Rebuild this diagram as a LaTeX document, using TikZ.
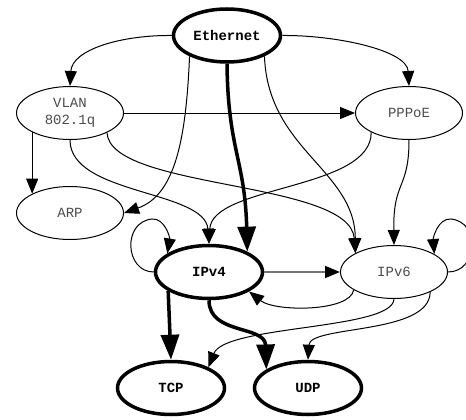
\documentclass[tikz,border=0pt]{standalone}
\usepackage{fontspec}
\setmonofont{Liberation Mono}
\usetikzlibrary{shapes.geometric,arrows.meta}
\begin{document}
\begin{tikzpicture}[x=1pt,y=-1pt,
  base/.style={ellipse, draw, minimum width=107pt, minimum height=53pt, inner sep=0pt, fill=white},
  thinnode/.style={base, line width=1pt, text=black!70, align=center, font=\ttfamily\fontsize{14}{17}\selectfont},
  boldnode/.style={base, line width=3.5pt, font=\ttfamily\bfseries\fontsize{14}{17}\selectfont},
  thinedge/.style={line width=1pt, -{Triangle[length=15pt,width=12pt]}},
  boldedge/.style={line width=3.5pt, line join=round, -{Triangle[length=25pt,width=18pt]}},
  grayedge/.style={line width=1.6pt, draw=black!55, -{Triangle[length=15pt,width=12pt,color=black]}},
]
\useasboundingbox (0,0) rectangle (466,420);

\node[boldnode] (eth)   at (227,35.5) {Ethernet};
\node[thinnode] (vlan)  at (70,113)  {VLAN\\802.1q};
\node[thinnode] (pppoe) at (409,113) {PPPoE};
\node[thinnode] (arp)   at (70,213)  {ARP};
\node[boldnode] (ipv4)  at (209,272) {IPv4};
\node[thinnode] (ipv6)  at (394,272) {IPv6};
\node[boldnode] (tcp)   at (171,388) {TCP};
\node[boldnode] (udp)   at (308,388) {UDP};

% from Ethernet
\draw[thinedge] (eth.west) .. controls (120,35) and (72,50) .. (vlan.north);
\draw[thinedge] (eth.east) .. controls (335,35) and (407,50) .. (pppoe.north);
\draw[thinedge] (eth.209) .. controls (186,140) and (175,195) .. (arp.east);
\draw[boldedge] (eth.south) .. controls (228,150) and (245,160) .. (ipv4.28);
\draw[thinedge] (eth.331) .. controls (268,150) and (355,170) .. (ipv6.154);

% from VLAN
\draw[thinedge] (vlan.east) -- (pppoe.west);
\draw[thinedge] (vlan.207) -- (arp.153);
\draw[thinedge] (vlan.south) .. controls (70,195) and (205,190) .. (ipv4.north);
\draw[thinedge] (vlan.332.5) .. controls (110,190) and (350,180) .. (ipv6.154);

% from PPPoE
\draw[thinedge] (pppoe.207.5) .. controls (372,190) and (212,185) .. (ipv4.north);
\draw[thinedge] (pppoe.south) .. controls (409,190) and (393,180) .. (ipv6.north);

% self loops
\draw[thinedge] (ipv4.west) .. controls (125,272) and (122,222) .. (152,219)
  .. controls (165,218) and (170,238) .. (ipv4.156);
\draw[thinedge] (ipv6.east) .. controls (478,272) and (481,222) .. (451,219)
  .. controls (438,218) and (433,238) .. (ipv6.24);

% IPv4 <-> IPv6
\draw[grayedge] (ipv4.east) -- (ipv6.west);
\draw[thinedge] (ipv6.204) .. controls (350,312) and (275,312) .. (ipv4.334.5);

% to TCP / UDP
\draw[boldedge] (ipv4.205.5) -- (tcp.north);
\draw[boldedge] (ipv4.south) .. controls (209,335) and (265,325) .. (udp.156);
\draw[thinedge] (ipv6.south) .. controls (393,330) and (225,325) .. (tcp.29);
\draw[thinedge] (ipv6.331) .. controls (430,335) and (310,325) .. (udp.north);
\end{tikzpicture}
\end{document}
